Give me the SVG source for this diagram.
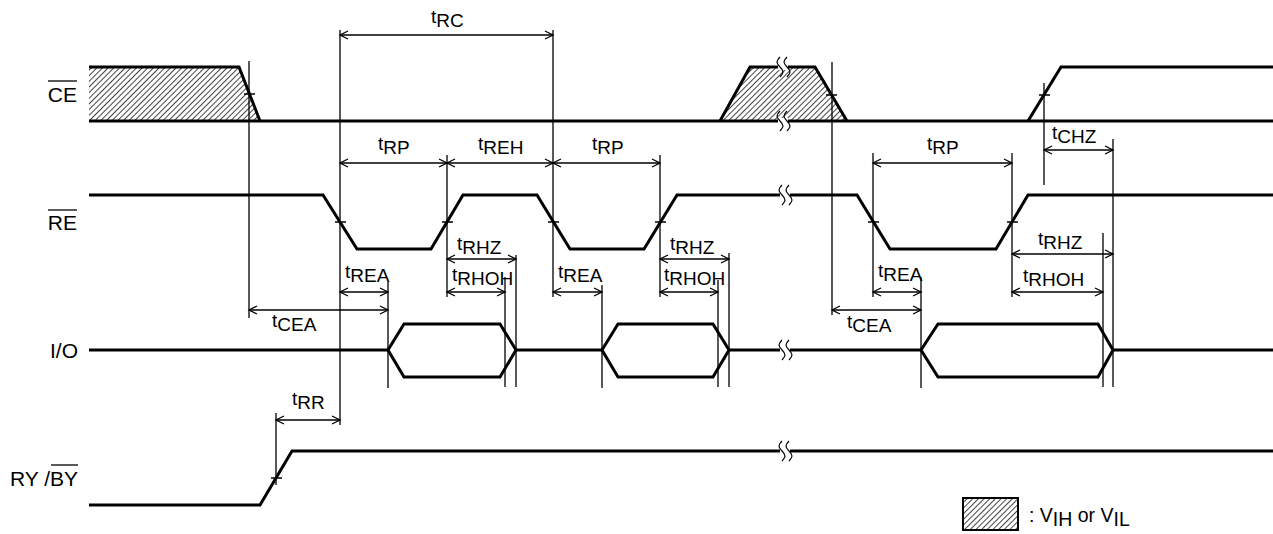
<svg xmlns="http://www.w3.org/2000/svg" width="1273" height="534" viewBox="0 0 1273 534">
<defs>
<style>
.sig{fill:none;stroke:#000;stroke-width:3;stroke-linejoin:miter}
.thin{fill:none;stroke:#000;stroke-width:1.3}
.dim{fill:none;stroke:#000;stroke-width:1.3;marker-start:url(#ah);marker-end:url(#ah)}
.lbl{font-family:"Liberation Sans",Arial,sans-serif;font-size:21px;fill:#000}
.t{font-family:"Liberation Sans",Arial,sans-serif;font-size:19px;fill:#000}
.hatch{fill:url(#hp);stroke:none}
</style>
<pattern id="hp" patternUnits="userSpaceOnUse" width="4" height="4" patternTransform="rotate(45)">
<rect width="4" height="4" fill="#fff"/>
<line x1="0" y1="0" x2="0" y2="4" stroke="#222" stroke-width="1.7"/>
</pattern>
<marker id="ah" markerUnits="userSpaceOnUse" markerWidth="12" markerHeight="10" refX="9" refY="5" orient="auto-start-reverse">
<path d="M1,1 L9,5 L1,9" fill="none" stroke="#000" stroke-width="1.3"/>
</marker>
<g id="brk">
<rect x="-5" y="-3" width="10" height="6" fill="#fff"/>
<path d="M-3,-10 c-4,4 -4,6 0,10 c4,4 4,6 0,10 M4,-10 c-4,4 -4,6 0,10 c4,4 4,6 0,10" fill="none" stroke="#000" stroke-width="1.2"/>
</g>
</defs>
<rect width="1273" height="534" fill="#fff"/>

<g id="signal-labels">
<text class="lbl" x="77" y="102" text-anchor="end">CE</text>
<line x1="48" y1="81" x2="77" y2="81" class="thin"/>
<text class="lbl" x="77" y="230" text-anchor="end">RE</text>
<line x1="48" y1="210" x2="77" y2="210" class="thin"/>
<text class="lbl" x="78" y="358" text-anchor="end">I/O</text>
<text class="lbl" x="78" y="486" text-anchor="end">RY /BY</text>
<line x1="51" y1="465" x2="78" y2="465" class="thin"/>
</g>

<g id="ce">
<polygon class="hatch" points="89,67 239,67 260,121 89,121"/>
<polygon class="hatch" points="720,121 750,67 815,67 847,121"/>
<path class="sig" d="M89,67 L239,67 L260,121"/>
<path class="sig" d="M89,121 L1273,121"/>
<path class="sig" d="M720,121 L750,67 L815,67 L847,121"/>
<path class="sig" d="M1028,121 L1061,67 L1273,67"/>
<use href="#brk" x="783" y="67"/>
<use href="#brk" x="783" y="121"/>
</g>

<g id="re">
<path class="sig" d="M89,195 L323,195 L357,249 L431,249 L463,195 L537,195 L570,249 L644,249 L677,195 L857,195 L890,249 L996,249 L1028,195 L1273,195"/>
<use href="#brk" x="785" y="195"/>
</g>

<g id="io">
<path class="sig" d="M89,350 L388,350 M516,350 L602,350 M729,350 L921,350 M1113,350 L1273,350"/>
<polygon class="sig" points="388,350 404,324 500,324 516,350 500,377 404,377"/>
<polygon class="sig" points="602,350 618,324 713,324 729,350 713,377 618,377"/>
<polygon class="sig" points="921,350 938,324 1098,324 1113,350 1098,377 938,377"/>
<use href="#brk" x="785" y="350"/>
</g>

<g id="ryby">
<path class="sig" d="M89,505 L260,505 L292,451 L1273,451"/>
<use href="#brk" x="785" y="451"/>
</g>

<g id="connectors">
<path class="thin" d="M249,61 V318 M340,30 V425 M553,30 V297 M447,155 V297 M660,155 V297 M873,153 V297 M1012,153 V297 M832,62 V315 M1044,83 V185 M1113,139 V387 M1103,233 V387 M921,277 V388 M388,282 V388 M602,285 V388 M505,277 V387 M516,255 V387 M718,280 V387 M729,253 V387 M276,413 V485"/>
<path class="thin" d="M244,94 H255 M826,95 H837 M1039,95 H1050 M335,222 H346 M442,222 H453 M548,222 H559 M655,222 H666 M868,222 H879 M1007,222 H1018 M271,478 H282"/>
<line class="dim" x1="340" y1="35" x2="553" y2="35"/>
<line class="dim" x1="340" y1="163" x2="447" y2="163"/>
<line class="dim" x1="447" y1="163" x2="553" y2="163"/>
<line class="dim" x1="553" y1="163" x2="660" y2="163"/>
<line class="dim" x1="873" y1="163" x2="1012" y2="163"/>
<line class="dim" x1="1044" y1="150" x2="1113" y2="150"/>
<line class="dim" x1="447" y1="259" x2="516" y2="259"/>
<line class="dim" x1="447" y1="292" x2="505" y2="292"/>
<line class="dim" x1="660" y1="259" x2="729" y2="259"/>
<line class="dim" x1="660" y1="292" x2="718" y2="292"/>
<line class="dim" x1="1012" y1="254" x2="1113" y2="254"/>
<line class="dim" x1="1012" y1="292" x2="1103" y2="292"/>
<line class="dim" x1="340" y1="292" x2="388" y2="292"/>
<line class="dim" x1="249" y1="310" x2="388" y2="310"/>
<line class="dim" x1="553" y1="292" x2="602" y2="292"/>
<line class="dim" x1="873" y1="292" x2="921" y2="292"/>
<line class="dim" x1="832" y1="310" x2="921" y2="310"/>
<line class="dim" x1="276" y1="420" x2="340" y2="420"/>
</g>

<g id="timing-labels">
<text class="t" x="431" y="23">t<tspan dy="4">RC</tspan></text>
<text class="t" x="378" y="150">t<tspan dy="4">RP</tspan></text>
<text class="t" x="478" y="150">t<tspan dy="4">REH</tspan></text>
<text class="t" x="592" y="150">t<tspan dy="4">RP</tspan></text>
<text class="t" x="927" y="150">t<tspan dy="4">RP</tspan></text>
<text class="t" x="1052" y="139">t<tspan dy="4">CHZ</tspan></text>
<text class="t" x="457" y="250">t<tspan dy="4">RHZ</tspan></text>
<text class="t" x="452" y="281">t<tspan dy="4">RHOH</tspan></text>
<text class="t" x="670" y="250">t<tspan dy="4">RHZ</tspan></text>
<text class="t" x="664" y="281">t<tspan dy="4">RHOH</tspan></text>
<text class="t" x="1038" y="245">t<tspan dy="4">RHZ</tspan></text>
<text class="t" x="1023" y="282">t<tspan dy="4">RHOH</tspan></text>
<text class="t" x="345" y="278">t<tspan dy="4">REA</tspan></text>
<text class="t" x="558" y="278">t<tspan dy="4">REA</tspan></text>
<text class="t" x="878" y="277">t<tspan dy="4">REA</tspan></text>
<text class="t" x="272" y="327">t<tspan dy="4">CEA</tspan></text>
<text class="t" x="847" y="328">t<tspan dy="4">CEA</tspan></text>
<text class="t" x="292" y="405">t<tspan dy="4">RR</tspan></text>
</g>

<g id="legend">
<rect x="963" y="498" width="55" height="32" fill="url(#hp)" stroke="#000" stroke-width="2"/>
<text class="lbl" x="1029" y="522" style="font-size:19.5px">: V<tspan dy="4">IH</tspan><tspan dy="-4"> or V</tspan><tspan dy="4">IL</tspan></text>
</g>
</svg>
